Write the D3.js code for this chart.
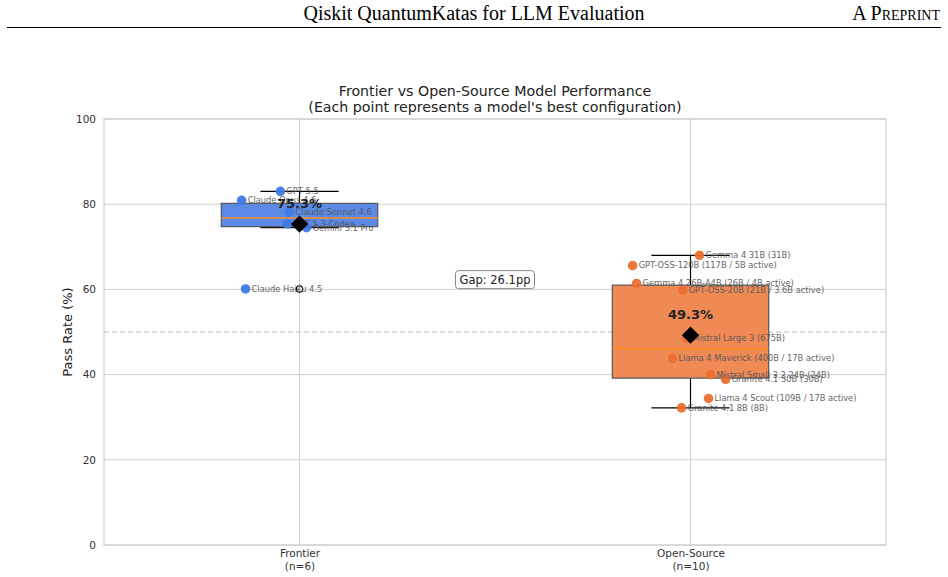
<!DOCTYPE html>
<html><head><meta charset="utf-8">
<script src="https://cdn.jsdelivr.net/npm/d3@7/dist/d3.min.js"></script>
<style>body{margin:0;background:#fff}svg{display:block}</style>
</head><body>
<svg id="c" width="948" height="577"></svg>
<script>
const groupNames = ["Frontier", "Open-Source"];
const frontierModels = ["GPT 5.5", "Claude Opus 4.6", "Claude Sonnet 4.6", "GPT 5.3-Codex", "Gemini 3.1 Pro", "Claude Haiku 4.5"];
const frontierScores = [83.0, 80.9, 78.1, 75.4, 74.5, 60.1];
const frontierJitter = [-0.049, -0.148, -0.026, -0.031, 0.018, -0.138];
const openModels = ["Gemma 4 31B (31B)", "GPT-OSS-120B (117B / 5B active)", "Gemma 4 26B-A4B (26B / 4B active)", "GPT-OSS-20B (21B / 3.6B active)", "Mistral Large 3 (675B)", "Llama 4 Maverick (400B / 17B active)", "Mistral Small 3.2 24B (24B)", "Granite 4.1 30B (30B)", "Llama 4 Scout (109B / 17B active)", "Granite 4.1 8B (8B)"];
const openScores = [68.0, 65.6, 61.4, 59.8, 48.5, 43.8, 40.0, 38.9, 34.4, 32.2];
const openJitter = [0.023, -0.148, -0.138, -0.020, -0.010, -0.046, 0.051, 0.090, 0.046, -0.023];
const yTicks = [0, 20, 40, 60, 80, 100];
const referenceLine = 50;

const groups = [
  {name: groupNames[0], pos: 1, models: frontierModels, scores: frontierScores, jitter: frontierJitter, box: "#5a8ae6", pt: "#3f7ae8"},
  {name: groupNames[1], pos: 2, models: openModels, scores: openScores, jitter: openJitter, box: "#ef8a55", pt: "#eb7030"}
];

const svg = d3.select("#c");
const L = 104, R = 886, T = 119, B = 545;
const x = d3.scaleLinear().domain([0.5, 2.5]).range([L, R]);
const y = d3.scaleLinear().domain([0, 100]).range([B, T]);
const font = "DejaVu Sans, sans-serif";

// header
svg.append("text").attr("x", 474).attr("y", 20).attr("text-anchor", "middle")
  .style("font-family", "Liberation Serif, serif").style("font-size", "20px").text("Qiskit QuantumKatas for LLM Evaluation");
svg.append("text").attr("x", 940).attr("y", 20).attr("text-anchor", "end")
  .style("font-family", "Liberation Serif, serif").style("font-size", "20px").style("font-variant", "small-caps").text("A Preprint");
svg.append("line").attr("x1", 7).attr("x2", 941).attr("y1", 27.5).attr("y2", 27.5).attr("stroke", "#000").attr("stroke-width", 1);

// title
svg.append("text").attr("x", 495).attr("y", 96).attr("text-anchor", "middle")
  .style("font-family", font).style("font-size", "14.2px").attr("fill", "#222").text("Frontier vs Open-Source Model Performance");
svg.append("text").attr("x", 495).attr("y", 112).attr("text-anchor", "middle")
  .style("font-family", font).style("font-size", "14.2px").attr("fill", "#222").text("(Each point represents a model's best configuration)");

// grid
const g = svg.append("g");
g.selectAll(".hg").data(yTicks).enter().append("line")
  .attr("x1", L).attr("x2", R).attr("y1", d => y(d)).attr("y2", d => y(d))
  .attr("stroke", "#d0d0d0").attr("stroke-width", 1);
g.selectAll(".vg").data(groups).enter().append("line")
  .attr("x1", d => x(d.pos)).attr("x2", d => x(d.pos)).attr("y1", T).attr("y2", B)
  .attr("stroke", "#d0d0d0").attr("stroke-width", 1);
g.append("rect").attr("x", L).attr("y", T).attr("width", R - L).attr("height", B - T)
  .attr("fill", "none").attr("stroke", "#cfcfcf").attr("stroke-width", 1.2);

// axes
const yAxis = d3.axisLeft(y).tickValues(yTicks).tickSize(0).tickPadding(8);
const ya = svg.append("g").attr("transform", `translate(${L},0)`).call(yAxis);
ya.select(".domain").remove();
ya.selectAll("text").style("font-family", font).style("font-size", "10.5px").attr("fill", "#333");

const xAxis = d3.axisBottom(x).tickValues(groups.map(d => d.pos)).tickSize(0).tickPadding(5).tickFormat(() => "");
const xa = svg.append("g").attr("transform", `translate(0,${B})`).call(xAxis);
xa.select(".domain").remove();
xa.selectAll(".tick").each(function(d, i) {
  const t = d3.select(this).select("text").style("font-family", font).style("font-size", "10.5px").attr("fill", "#333");
  t.append("tspan").attr("x", 0).attr("dy", "0.71em").text(groups[i].name);
  t.append("tspan").attr("x", 0).attr("dy", "1.2em").text(`(n=${groups[i].scores.length})`);
});

svg.append("text").attr("transform", `translate(72,${(T + B) / 2}) rotate(-90)`).attr("text-anchor", "middle")
  .style("font-family", font).style("font-size", "13px").attr("fill", "#222").text("Pass Rate (%)");

// reference line
svg.append("line").attr("x1", L).attr("x2", R).attr("y1", y(referenceLine)).attr("y2", y(referenceLine))
  .attr("stroke", "#bbb").attr("stroke-dasharray", "5,3").attr("stroke-width", 1);

// boxplots
const bw = 0.4, cw = 0.2;
groups.forEach(gr => {
  const s = gr.scores.slice().sort(d3.ascending);
  const q1 = d3.quantile(s, 0.25), med = d3.quantile(s, 0.5), q3 = d3.quantile(s, 0.75);
  const iqr = q3 - q1;
  const lo = d3.min(s.filter(v => v >= q1 - 1.5 * iqr));
  const hi = d3.max(s.filter(v => v <= q3 + 1.5 * iqr));
  const fl = s.filter(v => v < lo || v > hi);
  const c = x(gr.pos);
  const bg = svg.append("g");
  bg.append("line").attr("x1", c).attr("x2", c).attr("y1", y(q1)).attr("y2", y(lo)).attr("stroke", "#000").attr("stroke-width", 1.2);
  bg.append("line").attr("x1", c).attr("x2", c).attr("y1", y(q3)).attr("y2", y(hi)).attr("stroke", "#000").attr("stroke-width", 1.2);
  [lo, hi].forEach(v => bg.append("line").attr("x1", x(gr.pos - cw / 2)).attr("x2", x(gr.pos + cw / 2))
    .attr("y1", y(v)).attr("y2", y(v)).attr("stroke", "#000").attr("stroke-width", 1.2));
  bg.append("rect").attr("x", x(gr.pos - bw / 2)).attr("y", y(q3)).attr("width", x(gr.pos + bw / 2) - x(gr.pos - bw / 2))
    .attr("height", y(q1) - y(q3)).attr("fill", gr.box).attr("stroke", "#555").attr("stroke-width", 1.2);
  bg.append("line").attr("x1", x(gr.pos - bw / 2)).attr("x2", x(gr.pos + bw / 2)).attr("y1", y(med)).attr("y2", y(med))
    .attr("stroke", "#ff8a1e").attr("stroke-width", 1.5);
  fl.forEach(v => bg.append("circle").attr("cx", c).attr("cy", y(v)).attr("r", 3.2).attr("fill", "none").attr("stroke", "#000").attr("stroke-width", 1.2));
});

// points and labels
groups.forEach(gr => {
  const pts = gr.scores.map((v, i) => ({v, m: gr.models[i], dx: gr.jitter[i]}));
  const pg = svg.append("g");
  pg.selectAll("circle").data(pts).enter().append("circle")
    .attr("cx", d => x(gr.pos + d.dx)).attr("cy", d => y(d.v)).attr("r", 4.8).attr("fill", gr.pt).attr("opacity", 0.95);
  pg.selectAll("text").data(pts).enter().append("text")
    .attr("x", d => x(gr.pos + d.dx) + 6).attr("y", d => y(d.v)).attr("dy", "0.35em")
    .style("font-family", font).style("font-size", "8.3px").attr("fill", "#555").attr("opacity", 0.9).text(d => d.m);
});

// means
const means = groups.map(gr => d3.mean(gr.scores));
groups.forEach((gr, i) => {
  const c = x(gr.pos), cy = y(means[i]);
  svg.append("path").attr("d", d3.symbol().type(d3.symbolDiamond2).size(190)()).attr("transform", `translate(${c},${cy})`).attr("fill", "#000");
  svg.append("text").attr("x", c).attr("y", cy - 16).attr("text-anchor", "middle")
    .style("font-family", font).style("font-size", "13px").style("font-weight", "bold").attr("fill", "#222")
    .text(`${means[i].toFixed(1)}%`);
});

// gap annotation
const gap = means[0] - means[1];
const gy = y((means[0] + means[1]) / 2), gx = x(1.5);
const gt = svg.append("text").attr("x", gx).attr("y", gy).attr("dy", "0.35em").attr("text-anchor", "middle")
  .style("font-family", font).style("font-size", "11.5px").attr("fill", "#222").text(`Gap: ${gap.toFixed(1)}pp`);
const bb = gt.node().getBBox();
svg.insert("rect", () => gt.node()).attr("x", bb.x - 4).attr("y", bb.y - 2).attr("width", bb.width + 8).attr("height", bb.height + 4)
  .attr("rx", 3).attr("fill", "#fff").attr("stroke", "#888").attr("stroke-width", 1);
</script>
</body></html>
